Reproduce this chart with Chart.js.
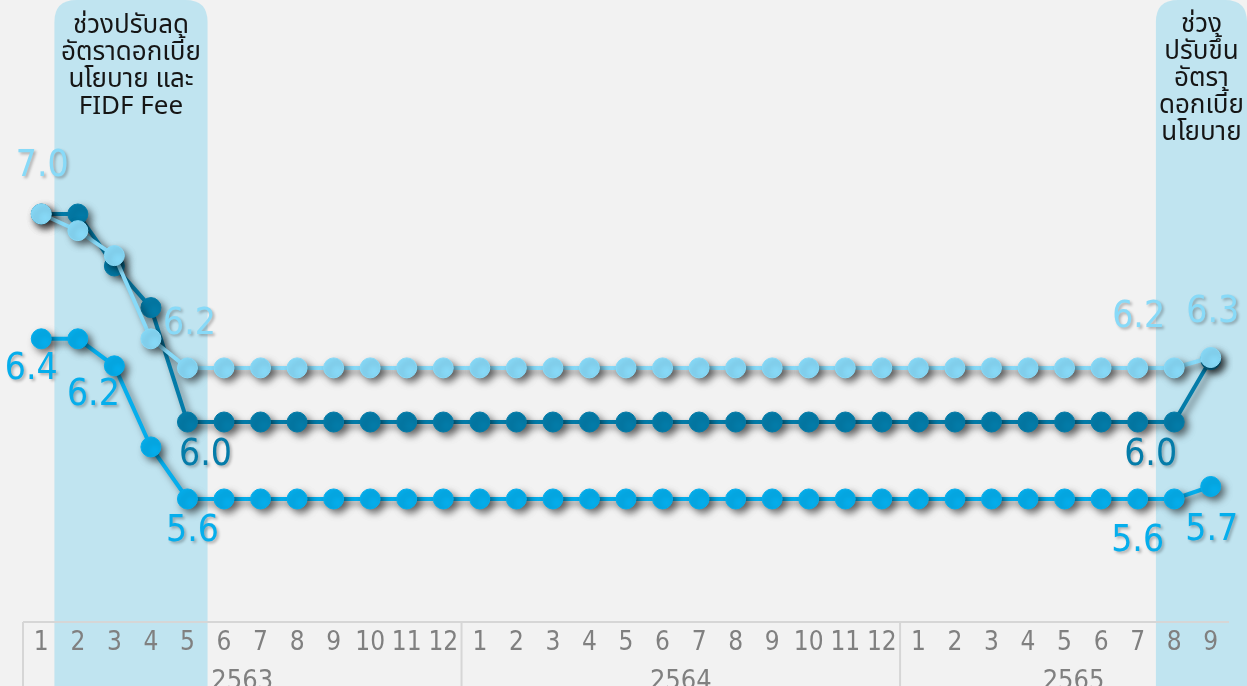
<!DOCTYPE html>
<html>
<head>
<meta charset="utf-8">
<script src="https://cdn.jsdelivr.net/npm/chart.js@4"></script>
<style>
    html, body { margin: 0; padding: 0; background: #f2f2f2; }
    #wrap { width: 1247px; height: 686px; }
</style>
</head>
<body>
<div id="wrap"><canvas id="rateChart" width="1247" height="686"></canvas></div>
<script>
// Month ticks (2563 - 2565)
const months = ['1','2','3','4','5','6','7','8','9','10','11','12',
                '1','2','3','4','5','6','7','8','9','10','11','12',
                '1','2','3','4','5','6','7','8','9'];
const years = ['2563', '2564', '2565'];
const monthsPerYear = [12, 12, 9];

// Rates (%)
const rateDark = [7.00, 7.00, 6.75, 6.55, 6.00, 6.00, 6.00, 6.00, 6.00, 6.00, 6.00,
                  6.00, 6.00, 6.00, 6.00, 6.00, 6.00, 6.00, 6.00, 6.00, 6.00, 6.00,
                  6.00, 6.00, 6.00, 6.00, 6.00, 6.00, 6.00, 6.00, 6.00, 6.00, 6.30];
const rateLight = [7.00, 6.92, 6.80, 6.40, 6.26, 6.26, 6.26, 6.26, 6.26, 6.26, 6.26,
                   6.26, 6.26, 6.26, 6.26, 6.26, 6.26, 6.26, 6.26, 6.26, 6.26, 6.26,
                   6.26, 6.26, 6.26, 6.26, 6.26, 6.26, 6.26, 6.26, 6.26, 6.26, 6.31];
const rateMid = [6.40, 6.40, 6.27, 5.88, 5.63, 5.63, 5.63, 5.63, 5.63, 5.63, 5.63,
                 5.63, 5.63, 5.63, 5.63, 5.63, 5.63, 5.63, 5.63, 5.63, 5.63, 5.63,
                 5.63, 5.63, 5.63, 5.63, 5.63, 5.63, 5.63, 5.63, 5.63, 5.63, 5.69];

// Value labels shown on the chart
const labelTexts = ['7.0', '6.2', '6.4', '6.2', '6.0', '5.6', '6.2', '6.3', '6.0', '5.6', '5.7'];

// Shaded periods
const periodTexts = [
    ['ช่วงปรับลด', 'อัตราดอกเบี้ย', 'นโยบาย และ', 'FIDF Fee'],
    ['ช่วง', 'ปรับขึ้น', 'อัตรา', 'ดอกเบี้ย', 'นโยบาย']
];

const COLOR_DARK = '#047ca9';
const COLOR_LIGHT = '#88daf8';
const COLOR_MID = '#05aeec';
const NUM_FONT = "'Liberation Sans Narrow', 'DejaVu Sans Condensed', 'Liberation Sans', sans-serif";
const THAI_FONT = "'Noto Sans Thai', 'Noto Sans', 'DejaVu Sans', sans-serif";

// where each value label sits: dataset, point index, offset
const labelPlaces = [
    { ds: 2, i: 0,  dx: 1,  dy: -48, color: COLOR_LIGHT },
    { ds: 2, i: 4,  dx: 2,  dy: -44, color: COLOR_LIGHT },
    { ds: 1, i: 0,  dx: -10, dy: 31, color: COLOR_MID },
    { ds: 1, i: 2,  dx: -21, dy: 30, color: COLOR_MID },
    { ds: 0, i: 4,  dx: 18, dy: 33, color: COLOR_DARK },
    { ds: 1, i: 4,  dx: 5,  dy: 32, color: COLOR_MID },
    { ds: 2, i: 30, dx: 1,  dy: -51, color: COLOR_LIGHT },
    { ds: 2, i: 32, dx: 2,  dy: -45, color: COLOR_LIGHT },
    { ds: 0, i: 30, dx: 13, dy: 33, color: COLOR_DARK },
    { ds: 1, i: 30, dx: 0,  dy: 42, color: COLOR_MID },
    { ds: 1, i: 32, dx: 1,  dy: 44, color: COLOR_MID }
];

function roundedTopRect(ctx, x, y, w, h, r) {
    ctx.beginPath();
    ctx.moveTo(x, y + h);
    ctx.lineTo(x, y + r);
    ctx.quadraticCurveTo(x, y, x + r, y);
    ctx.lineTo(x + w - r, y);
    ctx.quadraticCurveTo(x + w, y, x + w, y + r);
    ctx.lineTo(x + w, y + h);
    ctx.closePath();
}

const backdropPlugin = {
    id: 'backdrop',
    beforeDraw(chart) {
        const { ctx, width, height, scales } = chart;
        const x = scales.x;
        const step = x.getPixelForValue(1) - x.getPixelForValue(0);
        ctx.save();
        ctx.fillStyle = '#f2f2f2';
        ctx.fillRect(0, 0, width, height);

        const bands = [
            { left: x.getPixelForValue(1) - step * 0.64, right: x.getPixelForValue(4) + step * 0.55, text: periodTexts[0], top: 28 },
            { left: x.getPixelForValue(31) - step * 0.5, right: width, text: periodTexts[1], top: 27 }
        ];
        bands.forEach(b => {
            ctx.fillStyle = '#c0e4f0';
            roundedTopRect(ctx, b.left, 0, b.right - b.left, height, 22);
            ctx.fill();
            ctx.fillStyle = '#151515';
            ctx.font = '26px ' + THAI_FONT;
            ctx.textAlign = 'center';
            ctx.textBaseline = 'middle';
            const cx = (b.left + b.right) / 2;
            b.text.forEach((line, k) => ctx.fillText(line, cx, b.top + k * 27));
        });

        // axis box
        const top = chart.chartArea.bottom;
        ctx.strokeStyle = '#d6d6d6';
        ctx.lineWidth = 2;
        ctx.beginPath();
        ctx.moveTo(x.left, top);
        ctx.lineTo(x.right, top);
        let idx = 0;
        ctx.moveTo(x.left, top);
        ctx.lineTo(x.left, height);
        monthsPerYear.forEach((n, k) => {
            idx += n;
            if (k < monthsPerYear.length - 1) {
                const sx = x.getPixelForValue(idx) - step / 2;
                ctx.moveTo(sx, top);
                ctx.lineTo(sx, height);
            }
        });
        ctx.stroke();

        // year labels, centred on their box
        ctx.fillStyle = '#808080';
        ctx.font = '27px ' + NUM_FONT;
        ctx.textAlign = 'center';
        ctx.textBaseline = 'alphabetic';
        let start = 0;
        years.forEach((yr, k) => {
            const l = x.getPixelForValue(start) - step / 2;
            const r = k === years.length - 1 ? width : x.getPixelForValue(start + monthsPerYear[k]) - step / 2;
            ctx.fillText(yr, (l + r) / 2, 689);
            start += monthsPerYear[k];
        });
        ctx.restore();
    },
    beforeDatasetsDraw(chart) {
        const ctx = chart.ctx;
        ctx.save();
        ctx.shadowColor = 'rgba(0, 0, 0, 0.5)';
        ctx.shadowBlur = 7;
        ctx.shadowOffsetX = 4;
        ctx.shadowOffsetY = 4;
    },
    afterDatasetsDraw(chart) {
        const ctx = chart.ctx;
        ctx.restore();
        ctx.save();
        ctx.font = '37px ' + NUM_FONT;
        ctx.textAlign = 'center';
        ctx.textBaseline = 'middle';
        ctx.shadowColor = 'rgba(0, 0, 0, 0.28)';
        ctx.shadowBlur = 3;
        ctx.shadowOffsetX = 2;
        ctx.shadowOffsetY = 2;
        labelPlaces.forEach((p, k) => {
            const pt = chart.getDatasetMeta(p.ds).data[p.i];
            ctx.fillStyle = p.color;
            ctx.fillText(labelTexts[k], pt.x + p.dx, pt.y + p.dy);
        });
        ctx.restore();
    }
};

function lineSet(label, data, color, order) {
    return {
        label: label,
        data: data,
        borderColor: color,
        backgroundColor: color,
        pointBackgroundColor: color,
        pointBorderColor: color,
        pointRadius: 10,
        pointBorderWidth: 1,
        borderWidth: 4,
        tension: 0,
        order: order
    };
}

new Chart(document.getElementById('rateChart'), {
    type: 'line',
    data: {
        labels: months,
        datasets: [
            lineSet('dark', rateDark, COLOR_DARK, 2),
            lineSet('mid', rateMid, COLOR_MID, 1),
            lineSet('light', rateLight, COLOR_LIGHT, 0)
        ]
    },
    options: {
        responsive: false,
        animation: false,
        layout: { autoPadding: false, padding: { left: 23, right: 18, top: 0, bottom: 0 } },
        plugins: {
            legend: { display: false },
            tooltip: { enabled: false }
        },
        scales: {
            x: {
                offset: true,
                grid: { display: false, drawTicks: false },
                border: { display: false },
                ticks: {
                    color: '#808080',
                    font: { family: NUM_FONT, size: 26 },
                    padding: 6,
                    maxRotation: 0,
                    autoSkip: false
                },
                afterFit(scale) { scale.height = 64; }
            },
            y: {
                display: false,
                min: 5.0385,
                max: 8.0288
            }
        }
    },
    plugins: [backdropPlugin]
});
</script>
</body>
</html>
